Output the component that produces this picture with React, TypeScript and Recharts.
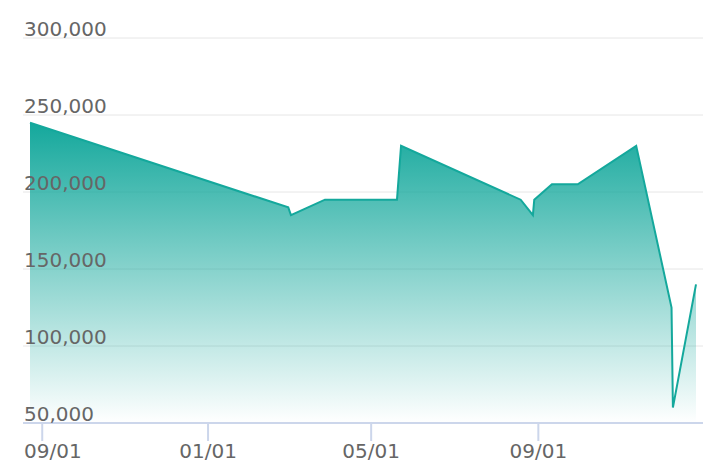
import React from 'react';
import { AreaChart, Area, XAxis, YAxis, CartesianGrid } from 'recharts';

const dates: string[] = [
  '2022-08-23', '2023-03-01', '2023-03-03', '2023-03-28', '2023-05-20',
  '2023-05-23', '2023-08-19', '2023-08-28', '2023-08-29', '2023-09-11',
  '2023-09-30', '2023-11-12', '2023-12-08', '2023-12-09', '2023-12-26',
];
const values: number[] = [
  245000, 190000, 185000, 195000, 195000,
  230000, 195000, 185000, 195000, 205000,
  205000, 230000, 125000, 60000, 140000,
];
const xTickDates: string[] = ['2022-09-01', '2023-01-01', '2023-05-01', '2023-09-01'];
const yTicks: number[] = [50000, 100000, 150000, 200000, 250000, 300000];

const toTs = (s: string) => Date.parse(s + 'T00:00:00Z');
const data = dates.map((d, i) => ({ t: toTs(d), v: values[i] }));
const xTicks = xTickDates.map(toTs);

const FONT = '"DejaVu Sans", sans-serif';
const TEXT = '#666666';
const LINE = '#14a89c';
const AXIS = '#ccd6eb';

const pad2 = (n: number) => (n < 10 ? '0' + n : '' + n);
const fmtDate = (ts: number) => {
  const d = new Date(ts);
  return pad2(d.getUTCMonth() + 1) + '/' + pad2(d.getUTCDate());
};

const PLOT_LEFT = 23;

const XTick = (props: any) => {
  const { x, y, payload } = props;
  const label = fmtDate(payload.value);
  const half = 29;
  const overflow = x - half < PLOT_LEFT;
  return (
    <text
      x={overflow ? PLOT_LEFT + 1 : x}
      y={y}
      dy={15}
      textAnchor={overflow ? 'start' : 'middle'}
      fill={TEXT}
      fontSize={20}
      fontFamily={FONT}
    >
      {label}
    </text>
  );
};

const YTick = (props: any) => {
  const { y, payload } = props;
  return (
    <text
      x={PLOT_LEFT + 1}
      y={y - 2.5}
      textAnchor="start"
      fill={TEXT}
      fontSize={20}
      fontFamily={FONT}
    >
      {Number(payload.value).toLocaleString('en-US')}
    </text>
  );
};

export default function App() {
  return (
    <div style={{ position: 'absolute', left: 0, top: 0, width: 722, height: 476, background: '#fff' }}>
      <AreaChart
        width={722}
        height={476}
        data={data}
        margin={{ top: 38, right: 19, left: PLOT_LEFT, bottom: 0 }}
      >
        <defs>
          <linearGradient id="areaFill" x1="0" y1="0" x2="0" y2="1">
            <stop offset="0%" stopColor={LINE} stopOpacity={1} />
            <stop offset="100%" stopColor={LINE} stopOpacity={0} />
          </linearGradient>
        </defs>
        <CartesianGrid vertical={false} stroke="#e6e6e6" strokeWidth={1} />
        <Area
          type="linear"
          dataKey="v"
          stroke={LINE}
          strokeWidth={2}
          fill="url(#areaFill)"
          fillOpacity={1}
          dot={false}
          activeDot={false}
          isAnimationActive={false}
        />
        <XAxis
          dataKey="t"
          type="number"
          scale="time"
          domain={['dataMin', 'dataMax']}
          ticks={xTicks}
          padding={{ left: 7, right: 7 }}
          height={53}
          tickSize={18}
          tickMargin={2}
          axisLine={{ stroke: AXIS, strokeWidth: 2 }}
          tickLine={{ stroke: AXIS, strokeWidth: 2 }}
          tick={<XTick />}
          interval={0}
        />
        <YAxis
          type="number"
          domain={[50000, 300000]}
          ticks={yTicks}
          mirror={true}
          width={90}
          axisLine={false}
          tickLine={false}
          tick={<YTick />}
          interval={0}
        />
      </AreaChart>
    </div>
  );
}
